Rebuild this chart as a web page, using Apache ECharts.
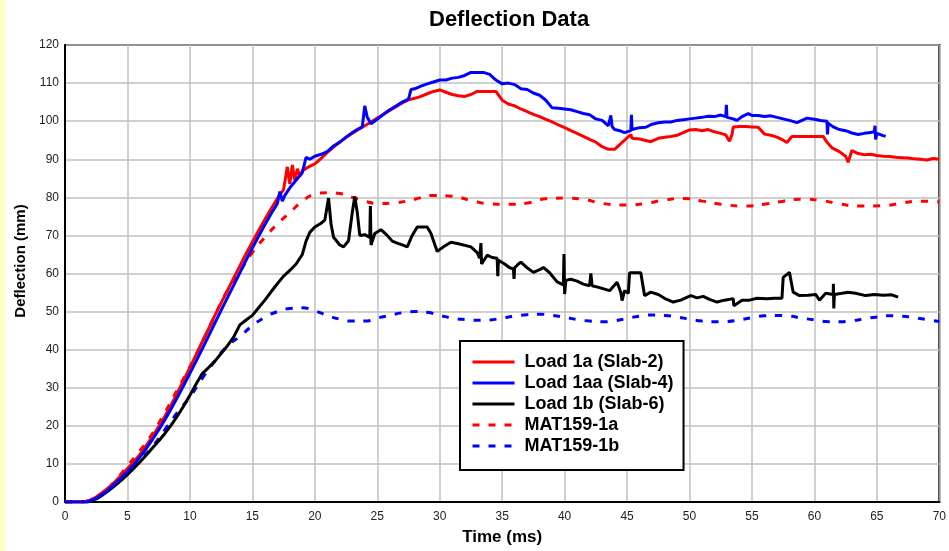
<!DOCTYPE html>
<html>
<head>
<meta charset="utf-8">
<script src="https://cdn.jsdelivr.net/npm/echarts@6/dist/echarts.min.js"></script>
<style>
html,body{margin:0;padding:0;background:#fff;}
#c{width:949px;height:551px;}
</style>
</head>
<body>
<div id="c"></div>
<script>
// ---------- data (time in ms, deflection in mm) ----------
var load1aT = [0,1.5,2,2.5,3,3.5,4,4.5,5,5.5,6,6.5,7,7.5,8,8.5,9,9.5,10,10.5,11,11.5,12,12.5,13,13.5,14,14.5,15,15.5,16,16.5,17,17.5,17.8,18,18.2,18.4,18.6,18.8,19,19.5,20,20.5,21,21.5,22,22.5,23,23.5,24,24.5,25,25.5,26,26.5,27,27.5,28,28.5,29,29.5,30,30.5,31,31.5,32,32.5,33,34.5,35,35.5,36,36.5,37,37.5,38,38.5,39,39.5,40,40.5,41,41.5,42,42.5,43,43.5,44,45.3,45.4,46,46.9,47.5,48,48.5,49,49.5,50,50.5,51,51.5,52,52.5,52.9,53.2,53.4,53.5,54,54.5,55,55.5,56,56.5,57,57.5,57.8,58.2,60.7,61,61.4,62,62.5,62.7,63,63.5,64,64.5,65,65.5,66,66.5,67,67.5,68,68.5,69,69.5,70];
var load1aV = [0,0,0.5,1.3,2.5,3.8,5.3,7,8.8,10.5,12.5,14.8,17.2,19.8,22.5,25.5,28.7,32,35.3,38.7,42.2,45.5,49,52.3,55.5,58.8,62,65.2,68.3,71.3,74.2,77,79.7,82,88,83.5,88.5,84.5,87.5,85.5,87,88,88.8,90.2,91.8,93.2,94.5,95.7,96.8,97.8,98.8,99.8,100.8,101.8,102.8,103.8,104.8,105.6,106,106.5,107.2,107.8,108.2,107.6,107,106.7,106.5,107,107.8,107.8,105.5,104.5,104,103.2,102.5,101.8,101.2,100.5,99.8,99,98.3,97.5,96.8,96,95.2,94.5,93.3,92.6,92.6,96.5,95.5,95.3,94.6,95.5,95.8,96,96.3,97,97.7,97.8,97.5,97.8,97.2,96.8,96.4,94.7,96.5,98.5,98.6,98.6,98.5,98.4,96.6,96.3,95.8,95,94.4,96,96,94.5,93,92,90.8,89.2,92.3,91.5,91.2,91.3,91,90.8,90.7,90.5,90.4,90.3,90.1,90,89.8,90.2,90];

var load1aaT = [0,1.8,2.5,3,3.5,4,4.5,5,5.5,6,6.5,7,7.5,8,8.5,9,9.5,10,10.5,11,11.5,12,12.5,13,13.5,14,14.5,15,15.5,16,16.5,17,17.2,17.4,17.6,18,18.5,19,19.3,19.6,20,20.5,21,21.5,22,22.5,23,23.5,23.8,24,24.2,24.5,25,25.5,26,26.5,27,27.5,27.7,28,28.5,29,29.5,30,30.5,31,31.5,32,32.5,33,33.5,34,34.5,35,35.5,36,36.5,37,37.5,38,38.5,39,39.5,40,40.5,41,41.5,42,42.5,43,43.5,43.7,43.8,44,44.5,44.8,45.3,45.35,45.4,46,46.5,47,47.5,48,48.5,49,49.5,50,50.5,51,51.5,52,52.5,52.9,52.95,53,53.5,53.8,54.2,54.7,55,55.5,56,56.5,57,57.5,58,58.6,59,59.4,60,60.5,61,61.05,61.1,61.5,62,62.5,63,63.5,64,64.5,64.8,64.85,64.9,65,65.5,65.7];
var load1aaV = [0,0,1,2,3.3,4.8,6.3,8,9.8,11.8,14,16.4,18.9,21.6,24.5,27.5,30.6,33.8,37,40.3,43.6,47,50.3,53.6,56.9,60.2,63.5,66.7,69.8,72.8,75.7,78.3,81.5,79,80.5,82.5,84.5,86.5,90.5,90,90.8,91.3,92,93.5,94.5,95.8,97,98,98.5,104,101,99.3,100.5,101.8,103,104,105,105.8,108.3,108.5,109.2,109.8,110.3,110.8,110.8,111.3,111.5,112,112.8,112.8,112.8,112.3,110.8,109.8,110,109.6,108.5,108.3,107.4,106.8,105.5,103.5,103.4,103.2,103,102.5,102,101.7,100.6,100.2,98.8,101.5,98.6,97.8,97.4,97,97.5,101.7,97.8,98.3,98.4,99.2,99.6,99.8,99.8,100.2,100.4,100.6,100.8,101,101.3,101.2,101.6,101.2,104.3,101,100.6,100.2,101.2,102,101.5,101.5,101.2,101.4,101,100.6,100.2,99.6,100.2,100.8,100.5,100.2,100,96.5,99.5,98.5,97.8,97.5,96.9,96.5,96.8,97,97.3,98.8,95.2,96.8,96.2,96];

var load1bT = [0,1.8,2.5,3,3.5,4,4.5,5,5.5,6,6.5,7,7.5,8,8.5,9,9.5,10,10.5,11,11.5,12,12.5,13,13.5,14,14.5,15,15.5,16,16.5,17,17.5,18,18.5,19,19.3,19.6,20,20.5,20.8,21.1,21.3,21.5,22,22.3,22.7,23,23.2,23.4,23.6,24,24.4,24.45,24.5,24.8,25.3,25.8,26.2,26.6,27,27.4,27.8,28.2,29,29.3,29.8,30.3,30.9,31.5,32.5,33,33.2,33.3,33.35,33.8,34.2,34.6,34.65,34.7,35.2,35.6,35.9,35.95,36,36.3,36.5,37,37.5,38,38.3,38.8,39.4,39.9,39.95,40,40.1,40.5,41,41.5,42,42.1,42.2,42.8,43.6,44.2,44.5,44.6,44.8,45.1,45.2,46.1,46.4,46.9,47.5,48,48.7,49.3,50.1,50.6,51.1,51.6,52.2,52.8,53.5,53.55,54.2,54.8,55.4,56.2,56.8,57.4,57.5,58,58.3,58.8,59.5,60.1,60.4,60.9,61.5,61.52,61.55,61.6,62.2,62.7,63.3,64.1,64.8,65.5,66.2,66.7];
var load1bV = [0,0,0.8,1.8,3,4.3,5.7,7.2,8.8,10.5,12.3,14.2,16,18,20.2,22.6,25.2,28,31,33.8,35.3,37,39,41,43.3,46.5,47.8,49,51,53,55.2,57.3,59.3,60.8,62.5,65,68.5,70.8,72.2,73.2,74,79.8,73,69.5,67.5,67,68.6,76,80.2,76,70,70.2,69.5,77.7,67.5,70.5,71.5,70,68.5,68,67.5,67,70,72.2,72.2,70.5,65.8,67,68.2,67.8,67,65.5,64,68,62.5,64.8,64.2,64,59.3,63.5,62.5,61.5,61.2,58.6,61.5,62.5,63,61.5,60.3,61,61.6,60.2,57.8,57,65.1,54.6,58.2,58.5,58,57.2,56.8,60,56.8,56.3,55.5,57.7,55,52.9,55.5,54.8,60.2,60.2,54.2,55.1,54.5,53.5,52.5,53,54.2,53.6,54,53.2,52.5,53,53.4,51.5,53,53,53.5,53.4,53.5,53.5,59,60.3,55.1,54.2,54.3,54.5,53,54.8,54.5,57.3,50.8,54.5,54.8,55.1,54.8,54.2,54.5,54.3,54.4,53.8];

var mat1aT = [0,1,2,3,4,5,6,7,8,9,10,11,12,13,14,15,16,17,18,19,20,21,22,23,24,25,26.5,28,29.5,31,32.5,34,35.5,37,38.5,40,41.5,43,45,46.5,48,49.5,51,52.5,54.5,56,57.5,59,60.5,62,63.5,65.5,67,68.5,70];
var mat1aV = [0,0,0.5,2.5,5.5,9.5,13.5,18,23.5,29.5,35.5,42,49,55.5,60.5,65.5,69.5,73,76,79,80.8,81.2,81,80,79,78.4,78.6,79.5,80.5,80.3,79.2,78.3,78.2,78.5,79.6,79.8,79.5,78.4,78,78.4,79.3,79.7,79,78.2,77.7,78.2,79,79.5,79.2,78.3,77.7,77.8,78.5,79,78.8];

var mat1bT = [0,1,2,3,4,5,6,7,8,9,10,11,12,13,14,15,16,17,18,19,20,21,22,23,24,25,26,27,28,29,30,31,32,33,34,35,36,37,38,39,40,41,42,43,44,45,46,47,48,49,50,51,52,53,54,55,56,57,58,59,60,61,62,63,64,65,66,67,68,69,70];
var mat1bV = [0,0,0.3,2,4.5,7.5,11,14.5,19,23.5,27.6,32.5,37,41,43.5,46.3,48.5,50,50.8,51,50.2,49,48,47.5,47.5,48.3,49,49.7,50,49.8,49,48.3,47.9,47.7,47.8,48.3,48.8,49.2,49.3,49,48.5,47.9,47.5,47.3,47.6,48.2,48.8,49.1,49,48.6,48,47.5,47.3,47.4,47.8,48.4,48.9,49,48.8,48.3,47.8,47.4,47.3,47.6,48.1,48.6,48.9,48.8,48.4,47.9,47.4];

var seriesNames = ['Load 1a (Slab-2)','Load 1aa (Slab-4)','Load 1b (Slab-6)','MAT159-1a','MAT159-1b'];
var xTicks = {min:0, max:70, interval:5};
var yTicks = {min:0, max:120, interval:10};

function zip(t, v){ return t.map(function(x,i){ return [x, v[i]]; }); }

var chart = echarts.init(document.getElementById('c'), null, {renderer:'canvas'});
var font = '"Liberation Sans", Arial, sans-serif';
chart.setOption({
  animation:false,
  backgroundColor:'#ffffff',
  graphic:[{type:'rect', left:0, top:0, shape:{width:6, height:551}, style:{fill:'#ffffcc'}, silent:true}],
  title:{text:'Deflection Data', left:424, top:4,
    textStyle:{fontFamily:font, fontSize:22, fontWeight:'bold', color:'#000'}},
  grid:{left:65, right:6, top:45, bottom:47, show:true, borderColor:'#000', borderWidth:2, backgroundColor:'#fff'},
  legend:{
    data:seriesNames, orient:'vertical', left:460, top:341,
    padding:[11,10,14,11], itemWidth:42, itemHeight:14, itemGap:1,
    backgroundColor:'#fff', borderColor:'#000', borderWidth:2, borderRadius:0,
    textStyle:{fontFamily:font, fontSize:18, fontWeight:'bold', color:'#000', lineHeight:20, padding:[0,0,0,5]},
    itemStyle:{color:'rgba(0,0,0,0)', borderWidth:0, opacity:0},
    lineStyle:{width:3}
  },
  xAxis:{type:'value', min:xTicks.min, max:xTicks.max, interval:xTicks.interval,
    name:'Time (ms)', nameLocation:'middle', nameGap:27,
    nameTextStyle:{fontFamily:font, fontSize:17, fontWeight:'bold', color:'#000'},
    axisLine:{show:true, lineStyle:{color:'#000', width:2}},
    axisTick:{show:false},
    axisLabel:{fontFamily:font, fontSize:12, color:'#222', margin:9},
    splitLine:{show:true, lineStyle:{color:'#c0c0c0', width:1.5}}},
  yAxis:{type:'value', min:yTicks.min, max:yTicks.max, interval:yTicks.interval,
    name:'Deflection (mm)', nameLocation:'middle', nameGap:34,
    nameTextStyle:{fontFamily:font, fontSize:15, fontWeight:'bold', color:'#000', padding:[0,0,0,25]},
    axisLine:{show:true, lineStyle:{color:'#000', width:2}},
    axisTick:{show:false},
    axisLabel:{fontFamily:font, fontSize:12, color:'#222', margin:6},
    splitLine:{show:true, lineStyle:{color:'#c0c0c0', width:1.5}}},
  series:[
    {name:seriesNames[3], type:'line', data:zip(mat1aT, mat1aV), smooth:true, symbol:'none',
      lineStyle:{color:'#ff0000', width:3, type:[7,9]}, itemStyle:{color:'#ff0000'}},
    {name:seriesNames[4], type:'line', data:zip(mat1bT, mat1bV), smooth:true, symbol:'none',
      lineStyle:{color:'#0000ff', width:3, type:[7,9]}, itemStyle:{color:'#0000ff'}},
    {name:seriesNames[2], type:'line', data:zip(load1bT, load1bV), symbol:'none',
      lineStyle:{color:'#000000', width:3}, itemStyle:{color:'#000000'}},
    {name:seriesNames[0], type:'line', data:zip(load1aT, load1aV), symbol:'none',
      lineStyle:{color:'#ff0000', width:3}, itemStyle:{color:'#ff0000'}},
    {name:seriesNames[1], type:'line', data:zip(load1aaT, load1aaV), symbol:'none',
      lineStyle:{color:'#0000ff', width:3}, itemStyle:{color:'#0000ff'}}
  ]
});
</script>
</body>
</html>
